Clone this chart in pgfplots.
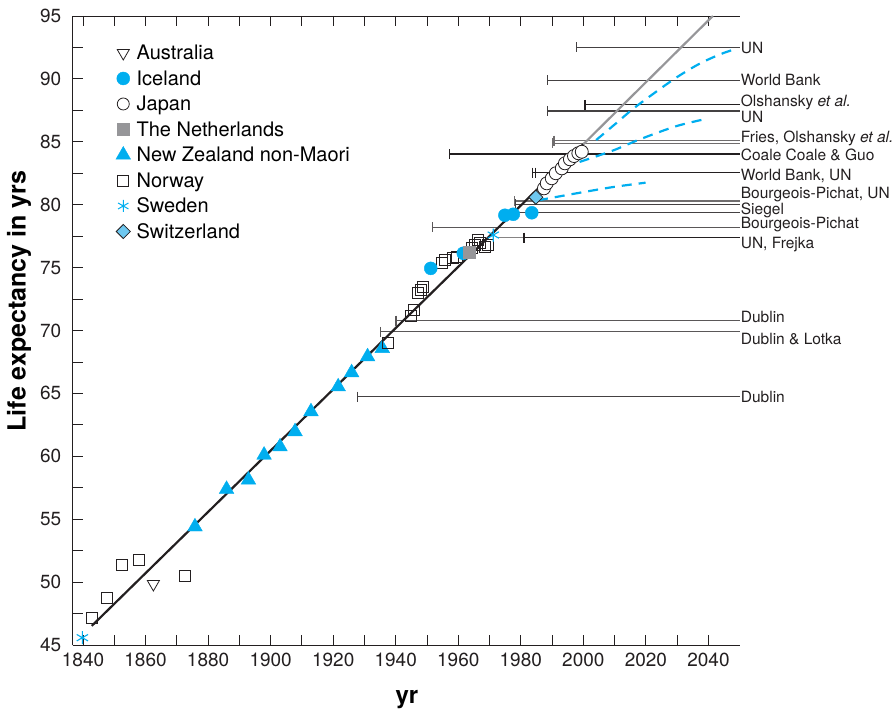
\documentclass[border=0pt]{standalone}
\usepackage{fontspec}
\setmainfont{TeX Gyre Heros}
\usepackage{pgfplots}
\pgfplotsset{compat=1.18}
\definecolor{cyanb}{RGB}{0,174,239}
\definecolor{dk}{RGB}{35,31,32}
\definecolor{gr}{RGB}{150,150,153}
\definecolor{swiss}{RGB}{110,200,240}
\pgfplotsset{
  projline/.style={dk!85, line width=1.2pt, mark=|, mark indices={1}, mark size=5pt, mark options={solid, line width=1.3pt}},
  plainline/.style={dk!85, line width=1.2pt},
}
\newcommand{\rlab}[2]{\node[anchor=base west, inner sep=1pt, yshift=-5.6pt, font=\fontsize{15.5}{18}\selectfont, text=dk] at (axis cs:2050,#1) {#2};}
\newcommand{\lstrut}{\rule[-5pt]{0pt}{20pt}}
\begin{document}
\begin{tikzpicture}
\begin{axis}[
  scale only axis, width=667pt, height=629pt,
  xmin=1836.7, xmax=2050, ymin=45, ymax=95,
  axis x line=box, axis y line=left,
  axis line style={-, line width=0.9pt, draw=dk},
  y axis line style={-},
  xtick={1840,1860,...,2040}, minor x tick num=1,
  ytick={45,50,...,95}, minor y tick num=1,
  tick align=inside, major tick length=10pt, minor tick length=10pt,
  every tick/.style={line width=0.9pt, dk},
  tick label style={font=\fontsize{19}{22}\selectfont, text=dk},
  /pgf/number format/assume math mode=true,
  /pgf/number format/1000 sep={},
  x tick label style={yshift=-4pt},
  y tick label style={xshift=-8pt},
  every axis y label/.style={at={(rel axis cs:0,0.547)}, xshift=-53.7pt, rotate=90, anchor=center, font=\fontsize{25}{28}\selectfont\bfseries},
  every axis x label/.style={at={(rel axis cs:0.501,0)}, yshift=-55pt, anchor=center, font=\fontsize{24}{27}\selectfont\bfseries},
  ylabel={Life expectancy in yrs}, xlabel={yr},
  clip=false,
  legend style={at={(rel axis cs:0.06,0.961)}, anchor=north west, draw=none, fill=none,
    font=\fontsize{20}{24}\selectfont, row sep=5pt,
    /tikz/every odd column/.append style={column sep=4pt}},
  legend cell align=left,
]
% legend images
\addlegendimage{only marks, mark=triangle, mark size=7pt, mark options={rotate=180, draw=dk, fill=white, line width=0.8pt}}
\addlegendentry{\lstrut Australia}
\addlegendimage{only marks, mark=*, mark size=6.5pt, mark options={draw=cyanb, fill=cyanb}}
\addlegendentry{\lstrut Iceland}
\addlegendimage{only marks, mark=*, mark size=6pt, mark options={draw=dk, fill=white, line width=0.8pt}}
\addlegendentry{\lstrut Japan}
\addlegendimage{only marks, mark=square*, mark size=6pt, mark options={draw=gr, fill=gr}}
\addlegendentry{\lstrut The Netherlands}
\addlegendimage{only marks, mark=triangle*, mark size=8.5pt, mark options={draw=cyanb, fill=cyanb}}
\addlegendentry{\lstrut New Zealand non-Maori}
\addlegendimage{only marks, mark=square, mark size=5.5pt, mark options={draw=dk, line width=0.8pt}}
\addlegendentry{\lstrut Norway}
\addlegendimage{only marks, mark=asterisk, mark size=6pt, mark options={draw=cyanb, line width=1pt}}
\addlegendentry{\lstrut Sweden}
\addlegendimage{only marks, mark=square*, mark size=5pt, mark options={rotate=45, draw=dk, fill=swiss, line width=0.8pt}}
\addlegendentry{\lstrut Switzerland}

% projection lines (asserted ceilings)
\addplot[projline, forget plot] coordinates {(1997.9,92.5) (2050,92.5)};
\addplot[projline, forget plot] coordinates {(1988.6,89.9) (2050,89.9)};
\addplot[projline, dk, line width=1.1pt, forget plot] coordinates {(2000.5,87.93) (2050,87.93)};
\addplot[projline, forget plot] coordinates {(1988.6,87.45) (2050,87.45)};
\addplot[projline, dk!65, forget plot] coordinates {(1990.6,85.09) (2050,85.09)};
\addplot[projline, dk!65, forget plot] coordinates {(1990.2,84.88) (2050,84.88)};
\addplot[projline, dk, line width=1.1pt, forget plot] coordinates {(1957.3,84.03) (2050,84.03)};
\addplot[projline, dk, line width=1.4pt, forget plot] coordinates {(1983.8,82.54) (2050,82.54)};
\addplot[projline, dk, line width=1.4pt, forget plot] coordinates {(1984.8,82.54) (2050,82.54)};
\addplot[projline, dk!65, forget plot] coordinates {(1977.9,80.29) (2050,80.29)};
\addplot[projline, dk!85, forget plot] coordinates {(1978.4,80.03) (2050,80.03)};
\addplot[plainline, forget plot] coordinates {(1979,79.36) (2050,79.36)};
\addplot[projline, dk!75, forget plot] coordinates {(1951.8,78.19) (2050,78.19)};
\addplot[plainline, dk!55, forget plot] coordinates {(1972.7,77.38) (2050,77.38)};
\addplot[projline, dk, line width=1.4pt, forget plot] coordinates {(1981,77.38) (2050,77.38)};
\addplot[projline, dk!75, forget plot] coordinates {(1940.1,70.78) (2050,70.78)};
\addplot[projline, dk!75, forget plot] coordinates {(1935.2,69.9) (2050,69.9)};
\addplot[projline, dk!85, forget plot] coordinates {(1927.7,64.74) (2050,64.74)};

% New Zealand non-Maori
\addplot[only marks, mark=triangle*, mark size=8.5pt, mark options={draw=cyanb, fill=cyanb}, forget plot] coordinates {
(1875.8,54.40) (1885.9,57.38) (1892.9,58.12) (1897.9,60.10) (1903.0,60.76) (1907.8,61.96)
(1912.9,63.55) (1921.6,65.53) (1925.9,66.65) (1931.0,67.92) (1935.7,68.58)};
% Norway
\addplot[only marks, mark=square, mark size=5.5pt, mark options={draw=dk, line width=0.8pt}, forget plot] coordinates {
(1843.0,47.17) (1847.7,48.71) (1852.5,51.34) (1857.8,51.76) (1872.6,50.48)
(1937.6,68.98) (1944.9,71.15) (1945.8,71.63) (1947.2,73.00) (1948.0,73.22) (1948.8,73.46)
(1954.7,75.34) (1955.7,75.60) (1958.4,75.74) (1959.5,75.87) (1964.3,76.53) (1965.3,76.80)
(1966.4,77.19) (1966.9,76.93) (1968.5,76.66) (1969.6,76.80)};
% Australia
\addplot[only marks, mark=triangle, mark size=7pt, mark options={rotate=180, draw=dk, fill=white, line width=0.8pt}, forget plot] coordinates {(1862.5,49.85)};
% Sweden
\addplot[only marks, mark=asterisk, mark size=6.5pt, mark options={draw=cyanb, line width=1.1pt}, forget plot] coordinates {(1839.8,45.58) (1971.2,77.59)};
% trend line
\addplot[dk, line width=2.2pt, forget plot] coordinates {(1842.8,46.52) (2000,84.81)};
% Iceland
\addplot[only marks, mark=*, mark size=6.5pt, mark options={draw=cyanb, fill=cyanb}, forget plot] coordinates {
(1951.2,74.94) (1961.6,76.14) (1974.9,79.16) (1977.6,79.24) (1983.5,79.36)};
% Netherlands
\addplot[only marks, mark=square*, mark size=6pt, mark options={draw=gr, fill=gr}, forget plot] coordinates {(1963.5,76.22)};
% dashed projections
\addplot[cyanb, line width=2.2pt, dash pattern=on 10pt off 7pt, smooth, forget plot] coordinates {
(2004.1,85.14) (2010.6,86.50) (2015.8,87.60) (2022.0,88.75) (2029.7,90.10) (2037.1,91.20) (2043.7,91.95) (2048.3,92.35)};
\addplot[cyanb, line width=2.2pt, dash pattern=on 10pt off 7pt, smooth, forget plot] coordinates {
(1998.8,83.40) (2009.4,84.30) (2018.1,85.20) (2029.8,86.25) (2039.8,86.85)};
\addplot[cyanb, line width=2.2pt, dash pattern=on 10pt off 7pt, smooth, forget plot] coordinates {
(1985.5,80.35) (1997.7,80.90) (2009.4,81.40) (2019.9,81.75)};
% gray extrapolation
\addplot[gr, line width=2.2pt, forget plot] coordinates {(2000,84.81) (2041.4,95)};
% Japan
\addplot[only marks, mark=*, mark size=6.5pt, mark options={draw=dk, fill=white, line width=0.8pt}, forget plot] coordinates {
(1987.4,81.30) (1988.3,81.70) (1989.9,82.10) (1991.2,82.50) (1993.1,82.89) (1994.1,83.29)
(1995.7,83.61) (1997.0,83.87) (1998.4,84.09) (1999.5,84.21)};
% Switzerland
\addplot[only marks, mark=square*, mark size=5pt, mark options={rotate=45, draw=dk, fill=swiss, line width=0.8pt}, forget plot] coordinates {(1984.8,80.59)};

% right-hand labels
\rlab{92.46}{UN}
\rlab{89.91}{World Bank}
\rlab{88.24}{Olshansky \textit{et al.}}
\rlab{86.97}{UN}
\rlab{85.38}{Fries, Olshansky \textit{et al.}}
\rlab{83.95}{Coale Coale \& Guo}
\rlab{82.36}{World Bank, UN}
\rlab{80.93}{Bourgeois-Pichat, UN}
\rlab{79.63}{Siegel}
\rlab{78.52}{Bourgeois-Pichat}
\rlab{76.98}{UN, Frejka}
\rlab{71.07}{Dublin}
\rlab{69.32}{Dublin \& Lotka}
\rlab{64.71}{Dublin}

\coordinate (sw) at (rel axis cs:0,0);
\end{axis}
\pgfresetboundingbox
\path ([shift={(-72.7pt,-68pt)}]sw) rectangle ++(893pt,713pt);
\end{tikzpicture}
\end{document}
